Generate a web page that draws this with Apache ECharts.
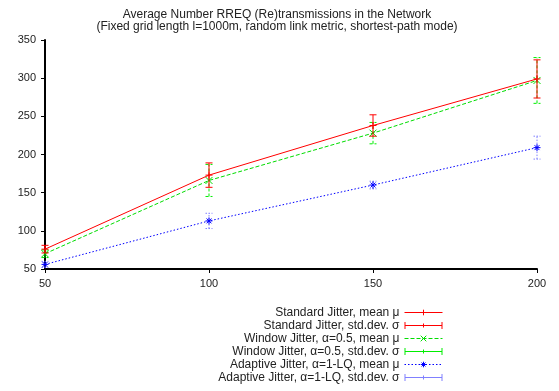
<!DOCTYPE html>
<html>
<head>
<meta charset="utf-8">
<script src="https://cdn.jsdelivr.net/npm/echarts@6/dist/echarts.min.js"></script>
<style>html,body{margin:0;padding:0;background:#fff}#c{width:559px;height:391px}</style>
</head>
<body>
<div id="c"></div>
<script>
const xValues = [50, 100, 150, 200];
const stdMean = [76, 173, 238, 299];
const stdDev = [5, 16, 14, 25];
const winMean = [70, 166, 228, 297];
const winDev = [5, 21, 14, 30];
const adaMean = [56, 113, 160, 209];
const adaDev = [4, 10, 5, 15];
const yTicks = [50, 350, 50]; // min, max, interval
const names = [
  'Standard Jitter, mean \u03bc',
  'Standard Jitter, std.dev. \u03c3',
  'Window Jitter, \u03b1=0.5, mean \u03bc',
  'Window Jitter, \u03b1=0.5, std.dev. \u03c3',
  'Adaptive Jitter, \u03b1=1-LQ, mean \u03bc',
  'Adaptive Jitter, \u03b1=1-LQ, std.dev. \u03c3'
];

const plusPath = 'path://M0,5L10,5M5,0L5,10';
const crossPath = 'path://M0,0L10,10M10,0L0,10';
const starPath = 'path://M0,5L10,5M5,0L5,10M1.5,1.5L8.5,8.5M8.5,1.5L1.5,8.5';
const errIcon = 'path://M0,0h1v7h-1z M37,0h1v7h-1z M0,3h38v1h-38z M18.5,1.5h1v4h-1z';

function pairs(ys) { return xValues.map((x, i) => [x, ys[i]]); }
function errData(m, s) { return xValues.map((x, i) => [x, m[i] - s[i], m[i] + s[i]]); }

function meanSeries(name, ys, color, dash, sym, z) {
  return {
    name, type: 'line', data: pairs(ys), z,
    symbol: sym, symbolSize: 7, showSymbol: true,
    lineStyle: { color, width: 1, type: dash },
    itemStyle: { color, borderColor: color, borderWidth: 1 },
    emphasis: { disabled: true }, animation: false
  };
}
function errSeries(name, m, s, color, dash, z) {
  return {
    name, type: 'custom', data: errData(m, s), z,
    itemStyle: { color },
    animation: false,
    renderItem(params, api) {
      const x = api.value(0);
      const p1 = api.coord([x, api.value(1)]);
      const p2 = api.coord([x, api.value(2)]);
      const w = 3.5;
      const st = { stroke: color, lineWidth: 1, lineDash: dash, fill: null };
      return { type: 'group', children: [
        { type: 'line', shape: { x1: p1[0], y1: p1[1], x2: p2[0], y2: p2[1] }, style: st },
        { type: 'line', shape: { x1: p1[0] - w, y1: p1[1], x2: p1[0] + w, y2: p1[1] }, style: st },
        { type: 'line', shape: { x1: p2[0] - w, y1: p2[1], x2: p2[0] + w, y2: p2[1] }, style: st }
      ]};
    }
  };
}

const chart = echarts.init(document.getElementById('c'), null, { renderer: 'canvas' });
chart.setOption({
  backgroundColor: '#fff',
  animation: false,
  title: {
    text: 'Average Number RREQ (Re)transmissions in the Network\n(Fixed grid length l=1000m, random link metric, shortest-path mode)',
    left: 272, top: 4, textAlign: 'center',
    textStyle: { fontFamily: 'Liberation Sans', fontSize: 12, fontWeight: 'normal', color: '#222', lineHeight: 12 }
  },
  grid: { left: 45, right: 22, top: 40, bottom: 122, containLabel: false },
  xAxis: {
    type: 'value', min: 50, max: 200, interval: 50,
    axisLine: { lineStyle: { color: '#000', width: 2 } },
    axisTick: { show: true, length: 4, lineStyle: { color: '#000' } },
    splitLine: { show: false },
    axisLabel: { fontFamily: 'Liberation Sans', fontSize: 11, color: '#222', margin: 9 }
  },
  yAxis: {
    type: 'value', min: yTicks[0], max: yTicks[1], interval: yTicks[2],
    axisLine: { show: true, lineStyle: { color: '#000', width: 2 } },
    axisTick: { show: true, length: 4, lineStyle: { color: '#000' } },
    splitLine: { show: false },
    axisLabel: { fontFamily: 'Liberation Sans', fontSize: 11, color: '#222', margin: 9 }
  },
  legend: {
    orient: 'vertical', align: 'right', right: 116, top: 306.5, padding: 0,
    itemWidth: 38, itemHeight: 7, itemGap: 1,
    lineStyle: { width: 1 },
    itemStyle: { borderWidth: 1 },
    textStyle: { fontFamily: 'Liberation Sans', fontSize: 12, color: '#222', lineHeight: 12 },
    selectedMode: false,
    data: [
      { name: names[0] },
      { name: names[1], icon: errIcon },
      { name: names[2] },
      { name: names[3], icon: errIcon },
      { name: names[4] },
      { name: names[5], icon: errIcon }
    ]
  },
  series: [
    errSeries(names[5], adaMean, adaDev, '#8080ff', [1.5, 1.5], 1),
    meanSeries(names[4], adaMean, '#0000ff', [1.5, 2], starPath, 2),
    errSeries(names[3], winMean, winDev, '#00ee00', [3, 2], 3),
    meanSeries(names[2], winMean, '#00dd00', [4, 2], crossPath, 4),
    errSeries(names[1], stdMean, stdDev, '#ff0000', null, 5),
    meanSeries(names[0], stdMean, '#ff0000', 'solid', plusPath, 6)
  ]
});
</script>
</body>
</html>
